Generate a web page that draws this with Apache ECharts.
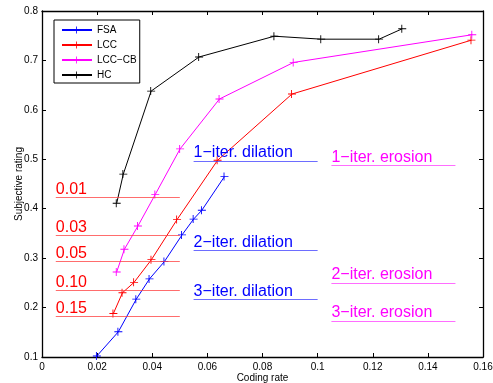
<!DOCTYPE html>
<html>
<head>
<meta charset="utf-8">
<script src="https://cdn.jsdelivr.net/npm/echarts@6/dist/echarts.min.js"></script>
<style>
html,body{margin:0;padding:0;background:#fff;}
#chart{width:493px;height:383px;}
</style>
</head>
<body>
<div id="chart"></div>
<script>
// ---- data ----
var seriesNames = ['FSA', 'LCC', 'LCC\u2212CB', 'HC'];
var seriesColors = ['#0000ff', '#ff0000', '#ff00ff', '#000000'];

var fsaX = [0.0199, 0.0277, 0.0342, 0.0390, 0.0444, 0.0508, 0.0550, 0.0580, 0.0662];
var fsaY = [0.102, 0.151, 0.217, 0.258, 0.293, 0.347, 0.379, 0.397, 0.465];

var lccX = [0.0259, 0.0292, 0.0334, 0.0397, 0.0490, 0.0637, 0.0907, 0.1558];
var lccY = [0.188, 0.230, 0.251, 0.297, 0.378, 0.498, 0.632, 0.741];

var cbX = [0.0271, 0.0299, 0.0348, 0.0411, 0.0501, 0.0644, 0.0913, 0.1561];
var cbY = [0.272, 0.318, 0.365, 0.429, 0.521, 0.622, 0.696, 0.752];

var hcX = [0.0271, 0.0295, 0.0396, 0.0570, 0.0843, 0.1013, 0.1223, 0.1307];
var hcY = [0.411, 0.470, 0.638, 0.707, 0.749, 0.743, 0.743, 0.764];

// annotations
var thresholdLabels = ['0.01', '0.03', '0.05', '0.10', '0.15'];
var thresholdY = [0.423, 0.346, 0.294, 0.235, 0.182];
var thresholdX = [0.005, 0.05];

var dilationLabels = ['1\u2212iter. dilation', '2\u2212iter. dilation', '3\u2212iter. dilation'];
var dilationY = [0.497, 0.316, 0.217];
var dilationX = [0.055, 0.1];

var erosionLabels = ['1\u2212iter. erosion', '2\u2212iter. erosion', '3\u2212iter. erosion'];
var erosionY = [0.488, 0.250, 0.173];
var erosionX = [0.105, 0.15];

var xTicks = {min: 0, max: 0.16, interval: 0.02};
var yTicks = {min: 0.1, max: 0.8, interval: 0.1};

// ---- build ----
var FONT = '"Liberation Sans", Arial, Helvetica, sans-serif';
var PLUS = 'path://M3.5,0H4.5V4H9V5H4.5V9H3.5V5H0V4H3.5Z';

function pairs(xs, ys) {
  return xs.map(function (x, i) { return [x, ys[i]]; });
}

function annLines(labels, ys, xr) {
  return labels.map(function (t, i) {
    return [
      {coord: [xr[0], ys[i]], label: {formatter: t}},
      {coord: [xr[1], ys[i]]}
    ];
  });
}

function markLineFor(labels, ys, xr, color, lineColor) {
  return {
    silent: true,
    symbol: ['none', 'none'],
    animation: false,
    lineStyle: {color: lineColor, width: 1, type: 'solid', opacity: 1},
    label: {
      show: true,
      position: 'insideStartTop',
      distance: [0, 0],
      color: color,
      opacity: 1,
      fontFamily: FONT,
      fontSize: 16
    },
    emphasis: {disabled: true},
    data: annLines(labels, ys, xr)
  };
}

var allData = [pairs(fsaX, fsaY), pairs(lccX, lccY), pairs(cbX, cbY), pairs(hcX, hcY)];
var marks = [
  markLineFor(dilationLabels, dilationY, dilationX, '#0000ff', 'rgba(60,60,255,0.75)'),
  markLineFor(thresholdLabels, thresholdY, thresholdX, '#ff0000', 'rgba(255,60,60,0.75)'),
  markLineFor(erosionLabels, erosionY, erosionX, '#ff00ff', 'rgba(255,60,255,0.75)'),
  null
];

var series = seriesNames.map(function (n, i) {
  var s = {
    name: n,
    type: 'line',
    xAxisIndex: 0,
    yAxisIndex: 0,
    data: allData[i],
    symbol: PLUS,
    symbolSize: 8,
    showAllSymbol: true,
    color: seriesColors[i],
    itemStyle: {color: seriesColors[i]},
    lineStyle: {color: seriesColors[i], width: 1},
    animation: false,
    emphasis: {disabled: true}
  };
  if (marks[i]) s.markLine = marks[i];
  return s;
});

var axisLine = {show: true, onZero: false, lineStyle: {color: '#000', width: 1.3}};
var tick = {show: true, inside: true, length: 4, lineStyle: {color: '#000', width: 1}};

var option = {
  backgroundColor: '#fff',
  animation: false,
  grid: {left: 42, right: 10, top: 11, bottom: 26, containLabel: false, outerBoundsMode: 'none'},
  legend: {
    orient: 'vertical',
    left: 54,
    top: 20,
    padding: [5, 3, 3, 7],
    itemWidth: 30,
    itemHeight: 9,
    itemGap: 5,
    borderColor: '#000',
    borderWidth: 1,
    backgroundColor: '#fff',
    textStyle: {fontFamily: FONT, fontSize: 10, color: '#000', lineHeight: 10},
    data: seriesNames,
    selectedMode: false
  },
  xAxis: [
    {
      type: 'value', position: 'bottom',
      min: xTicks.min, max: xTicks.max, interval: xTicks.interval,
      name: 'Coding rate', nameLocation: 'middle', nameGap: 16, nameMoveOverlap: false,
      nameTextStyle: {fontFamily: FONT, fontSize: 10, color: '#000'},
      axisLine: axisLine, axisTick: tick,
      axisLabel: {fontFamily: FONT, fontSize: 10, color: '#000', margin: 5},
      splitLine: {show: false}
    },
    {
      type: 'value', position: 'top',
      min: xTicks.min, max: xTicks.max, interval: xTicks.interval,
      axisLine: axisLine, axisTick: tick,
      axisLabel: {show: false}, splitLine: {show: false}
    }
  ],
  yAxis: [
    {
      type: 'value', position: 'left',
      min: yTicks.min, max: yTicks.max, interval: yTicks.interval,
      name: 'Subjective rating', nameLocation: 'middle', nameGap: 18, nameMoveOverlap: false,
      nameTextStyle: {fontFamily: FONT, fontSize: 10, color: '#000'},
      axisLine: axisLine, axisTick: tick,
      axisLabel: {fontFamily: FONT, fontSize: 10, color: '#000', margin: 4},
      splitLine: {show: false}
    },
    {
      type: 'value', position: 'right',
      min: yTicks.min, max: yTicks.max, interval: yTicks.interval,
      axisLine: axisLine, axisTick: tick,
      axisLabel: {show: false}, splitLine: {show: false}
    }
  ],
  series: series
};

var chart = echarts.init(document.getElementById('chart'), null, {renderer: 'canvas'});
chart.setOption(option);
</script>
</body>
</html>
